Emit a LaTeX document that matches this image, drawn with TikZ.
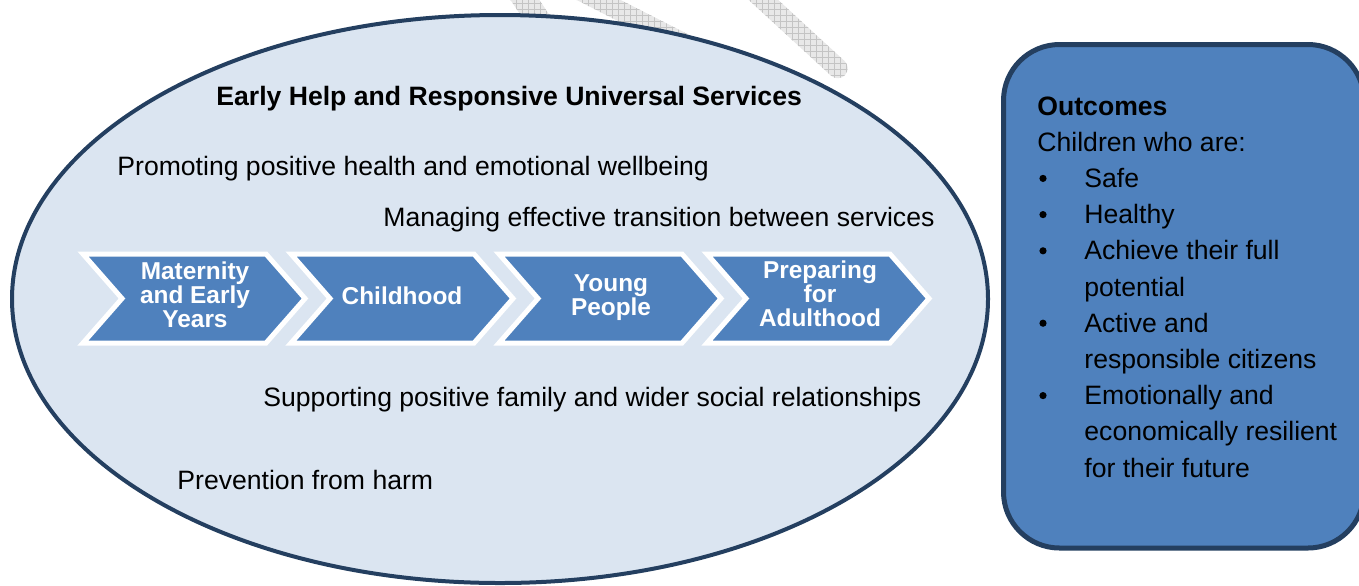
\documentclass[tikz,border=0pt]{standalone}
\usepackage{fontspec}
\setmainfont{Liberation Sans}
\usetikzlibrary{shapes.geometric,patterns}
\definecolor{ellfill}{HTML}{DBE5F1}
\definecolor{navy}{HTML}{243F60}
\definecolor{ofblue}{HTML}{4F81BD}
\definecolor{hatchbg}{HTML}{E8E8E8}
\definecolor{hatchln}{HTML}{C4C4C4}
\begin{document}
\begin{tikzpicture}[x=0.5pt,y=-0.5pt,
  txt/.style={font=\fontsize{13.3pt}{16pt}\selectfont, inner sep=0pt, anchor=base west},
  chevtxt/.style={font=\bfseries\fontsize{12.2pt}{12pt}\selectfont, text=white, align=center, inner sep=0pt},
  chev/.style={fill=ofblue, draw=white, line width=2.5pt, line join=miter},
  band/.style={fill=hatchbg, postaction={pattern=grid, pattern color=hatchln}, draw=none, rounded corners=5pt, inner sep=0pt, minimum height=10pt},
  ringstyle/.style={ellipse, draw=navy, line width=2pt, fill=ellfill, inner sep=0pt},
  outbox/.style={draw=navy, line width=2.5pt, fill=ofblue, rounded corners=28pt, inner sep=0pt},
  dot/.style={circle, fill=black, inner sep=0pt, minimum size=3.6pt}
  ]
\useasboundingbox (0,0) rectangle (1359,585);

% faint hatched bands behind the ellipse
\node[band, rotate=-56.3, minimum width=36pt, minimum height=12pt] (bandA) at (525,0) {};
\node[band, rotate=-27, minimum width=107pt] (bandB) at (635,18.5) {};
\node[band, rotate=-42.6, minimum width=85pt] (bandC) at (782.5,17.5) {};

% ellipse
\node[ringstyle, minimum width=488pt, minimum height=284pt] (ring) at (500,299) {};

% chevrons
\foreach \L in {83,291,499,707}{
  \draw[chev] (\L,254) -- ++(183,0) -- ++(39,44.5) -- ++(-39,44.5) -- ++(-183,0) -- ++(39,-44.5) -- cycle;
}
\node[chevtxt] (c1) at (195,294.7) {Maternity\\and Early\\Years};
\node[chevtxt] (c2) at (402,295.3) {Childhood};
\node[chevtxt] (c3) at (611,297.9) {Young\\People};
\node[chevtxt] (c4) at (820,293.7) {Preparing\\for\\Adulthood};

% texts in the ellipse
\node[txt] (title) at (216,105) {\bfseries Early Help and Responsive Universal Services};
\node[txt] (promo) at (117,175.5) {Promoting positive health and emotional wellbeing};
\node[txt] (manage) at (383,226.5) {Managing effective transition between services};
\node[txt] (support) at (263,406) {Supporting positive family and wider social relationships};
\node[txt] (prevent) at (177,489) {Prevention from harm};

% outcomes box
\node[outbox, minimum width=180.25pt, minimum height=251.75pt] (outcomes) at (1183.75,296.25) {};
\node[txt] (o0) at (1037,115) {\bfseries Outcomes};
\node[txt] (o1) at (1037,151.2) {Children who are:};
\node[dot] (b2) at (1043,178.4) {};
\node[txt] (o2) at (1084,187.4) {Safe};
\node[dot] (b3) at (1043,214.6) {};
\node[txt] (o3) at (1084,223.6) {Healthy};
\node[dot] (b4) at (1043,250.8) {};
\node[txt] (o4) at (1084,259.8) {Achieve their full};
\node[txt] (o5) at (1084,296) {potential};
\node[dot] (b6) at (1043,323.2) {};
\node[txt] (o6) at (1084,332.2) {Active and};
\node[txt] (o7) at (1084,368.4) {responsible citizens};
\node[dot] (b8) at (1043,395.6) {};
\node[txt] (o8) at (1084,404.6) {Emotionally and};
\node[txt] (o9) at (1084,440.8) {economically resilient};
\node[txt] (o10) at (1084,477) {for their future};
\end{tikzpicture}
\end{document}
